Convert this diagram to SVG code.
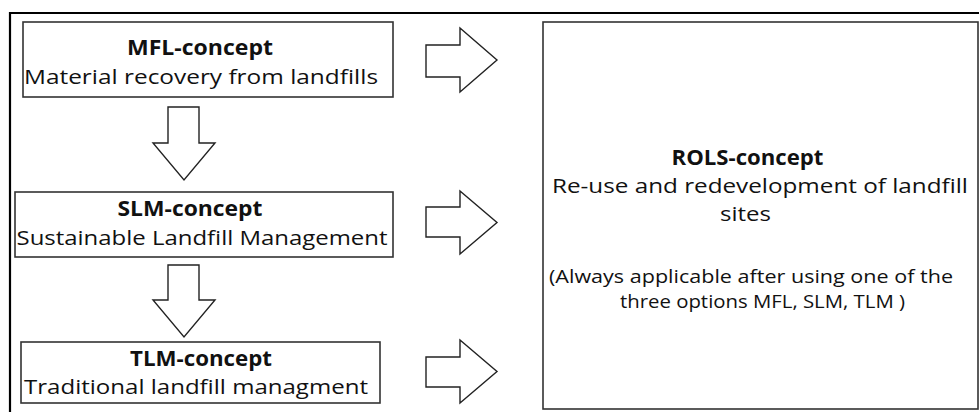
<svg xmlns="http://www.w3.org/2000/svg" width="979" height="412" viewBox="0 0 979 412">
<style>
  .box{fill:#fff;stroke:#333;stroke-width:1.6}
  .arr{fill:#fff;stroke:#222;stroke-width:1.4;stroke-linejoin:miter}
  .t{font-family:"Open Sans","Liberation Sans",sans-serif;font-size:20.5px;fill:#111;text-anchor:middle}
  .s{font-size:19px}
  .b{font-weight:bold}
</style>
<rect x="0" y="0" width="979" height="412" fill="#fff"/>
<path d="M10,413 V13 H980" fill="none" stroke="#000" stroke-width="2.2"/>
<g id="mfl">
  <rect class="box" x="23" y="22" width="370" height="75"/>
  <text class="t b" x="200" y="55" textLength="146" lengthAdjust="spacingAndGlyphs">MFL-concept</text>
  <text class="t" x="201" y="84" textLength="354" lengthAdjust="spacingAndGlyphs">Material recovery from landfills</text>
</g>
<g id="slm">
  <rect class="box" x="15" y="192" width="378" height="65"/>
  <text class="t b" x="190" y="216" textLength="145" lengthAdjust="spacingAndGlyphs">SLM-concept</text>
  <text class="t" x="202" y="245" textLength="371" lengthAdjust="spacingAndGlyphs">Sustainable Landfill Management</text>
</g>
<g id="tlm">
  <rect class="box" x="21" y="342" width="359" height="61"/>
  <text class="t b" x="201" y="366" textLength="142" lengthAdjust="spacingAndGlyphs">TLM-concept</text>
  <text class="t" x="196" y="394" textLength="344" lengthAdjust="spacingAndGlyphs">Traditional landfill managment</text>
</g>
<g id="rols">
  <rect class="box" x="543" y="22" width="435" height="387"/>
  <text class="t b" x="747.5" y="165" textLength="152" lengthAdjust="spacingAndGlyphs">ROLS-concept</text>
  <text class="t" x="760" y="193" textLength="416" lengthAdjust="spacingAndGlyphs">Re-use and redevelopment of landfill</text>
  <text class="t" x="745.5" y="221" textLength="51" lengthAdjust="spacingAndGlyphs">sites</text>
  <text class="t s" x="751" y="283" textLength="404" lengthAdjust="spacingAndGlyphs">(Always applicable after using one of the</text>
  <text class="t s" x="762.5" y="308" textLength="285" lengthAdjust="spacingAndGlyphs">three options MFL, SLM, TLM )</text>
</g>
<g id="connectors">
  <polygon class="arr" points="426,45 460,45 460,28 497,60 460,92 460,77 426,77"/>
  <polygon class="arr" points="426,207 460,207 460,191 497,222.5 460,254 460,237 426,237"/>
  <polygon class="arr" points="426,357 460,357 460,340 497,371.5 460,403 460,387 426,387"/>
  <polygon class="arr" points="168,107 199,107 199,143 215,143 184,180 153,143 168,143"/>
  <polygon class="arr" points="168,265 199,265 199,300 215,300 184,337 153,300 168,300"/>
</g>
</svg>
